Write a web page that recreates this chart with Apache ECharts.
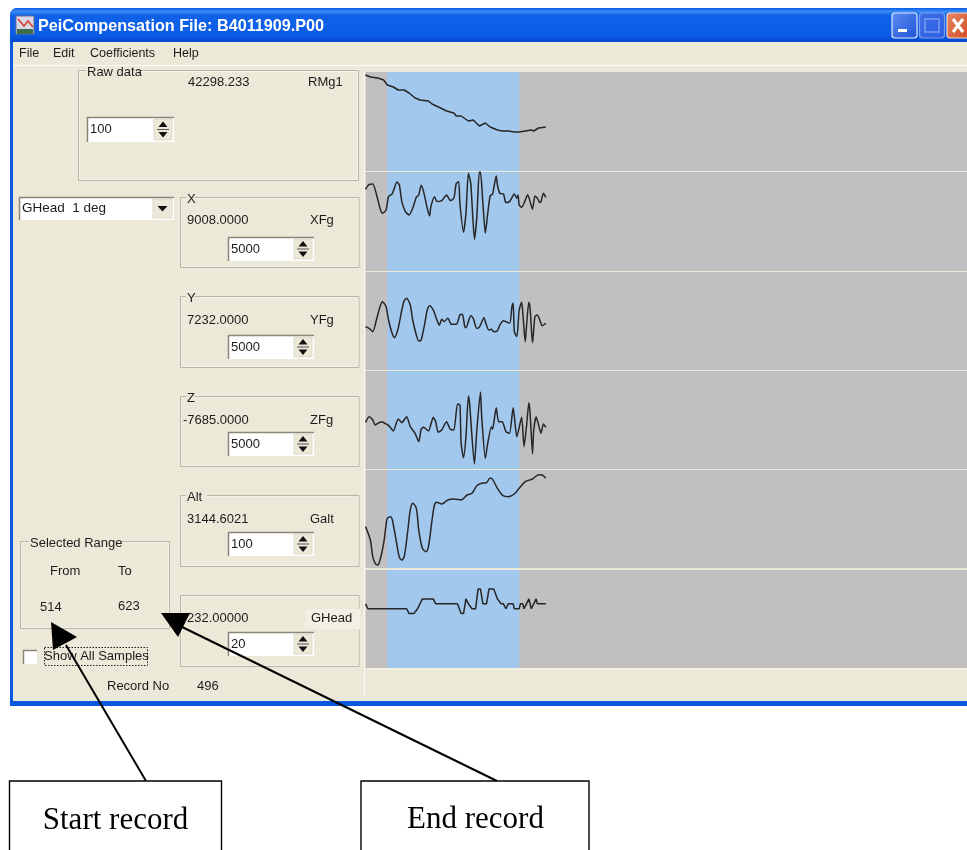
<!DOCTYPE html>
<html><head><meta charset="utf-8">
<script src="https://cdn.jsdelivr.net/npm/echarts@6/dist/echarts.min.js"></script>
<style>html,body{margin:0;padding:0;background:#fff;overflow:hidden}#c{width:967px;height:850px}</style>
</head><body><div id="c"></div>
<script>
// ---------- data: record numbers and readings of each trace ----------
const selectedFrom = 514;
const selectedTo = 623;
const firstRecord = 496;
const lastRecord = 993;

const rmg1Records = [496,500,506,511,514,519,523,528,532,537,541,548,551,558,563,569,571,575,581,585,590,595,599,605,609,614,619,623,628,629,633,635,639,645];
const rmg1Values = [42298,42296,42295,42293,42288,42286,42283,42283,42280,42275,42273,42272,42269,42265,42262,42260,42257,42257,42252,42253,42247,42250,42246,42243,42242,42242,42241,42241,42242,42241,42243,42242,42245,42246];

const xfgRecords = [496,499,502,505,508,510,513,515,518,522,524,526,529,532,535,538,540,542,544,547,549,550,553,555,559,563,566,569,571,573,574,577,579,581,583,586,588,590,591,593,595,597,599,601,604,605,607,610,612,615,619,621,622,623,625,627,630,632,634,636,638,640,641,643,645];
const xfgValues = [9008,9260,9277,8773,8050,7798,7966,8638,8773,9378,9226,8386,7882,7714,8050,8605,8722,9210,8890,8050,7664,8134,8638,8386,8437,8722,8437,8554,9310,9394,8302,6841,7798,9814,9310,6488,7630,9882,9882,8302,6790,7798,8672,8773,9680,9226,8806,8773,8336,8386,8773,8554,8722,8218,8101,8302,8739,8386,7999,8672,8554,8336,8386,8806,8605];

const yfgRecords = [496,499,502,505,508,510,513,515,518,520,523,526,528,530,533,535,538,540,542,545,547,549,552,555,557,559,561,564,567,571,574,576,578,579,583,585,588,590,594,595,598,600,602,605,607,610,615,617,618,619,621,623,625,626,628,629,631,632,634,636,638,640,642,645];
const yfgValues = [7232,7147,6977,7572,8252,8507,8252,7572,6892,6671,7147,8082,8558,8677,8337,7572,6807,6501,6552,7402,8082,8303,8082,7572,7300,7606,7487,7657,7351,7351,7827,7861,7232,7181,7793,7657,7147,7198,7691,7487,7062,7096,6977,7028,7317,7538,7402,8252,8422,6977,6722,8082,8473,7912,6467,7232,8473,8167,6416,7742,7827,7572,7283,7402];

const zfgRecords = [496,499,502,504,509,513,516,519,523,526,530,533,537,540,542,544,548,552,554,556,559,563,566,569,572,574,575,577,579,581,582,586,588,591,592,595,597,600,601,604,606,609,612,615,618,619,621,625,627,629,631,632,634,635,637,639,641,643,645];
const zfgValues = [-7685,-7396,-7566,-7821,-7651,-7770,-7906,-8127,-7515,-7702,-7396,-7906,-8246,-8671,-8042,-7940,-8127,-7430,-7651,-8195,-8076,-7651,-8042,-8076,-6750,-6801,-8756,-9487,-8416,-6342,-6716,-9810,-8076,-6138,-7396,-9521,-8756,-7906,-8042,-6937,-7651,-7651,-8161,-8246,-6937,-7396,-8416,-7430,-8926,-7906,-6682,-7226,-9300,-8076,-7396,-7821,-8246,-7770,-7940];

const galtRecords = [496,500,502,504,506,508,511,513,514,517,519,522,524,526,528,531,533,535,538,540,543,546,548,551,553,555,559,564,569,575,580,584,588,592,596,599,601,605,610,614,619,623,628,634,639,642,645];
const galtValues = [3144.6,3131,3114,3107.2,3105.5,3110.6,3127.6,3146.3,3153.1,3154.8,3146.3,3125.9,3113.3,3110.6,3114,3141.2,3161.6,3168.4,3163.3,3141.2,3122.5,3119.1,3124.2,3151.4,3166.7,3169.4,3167.7,3171.8,3172.8,3171.8,3176.9,3178.6,3186.4,3188.8,3189.5,3194.2,3192.9,3183.7,3175.9,3175.2,3177.9,3183.7,3190.5,3193.2,3197.6,3197.3,3193.9];

const gheadRecords = [496,497,498,530,532,536,539,541,543,552,554,572,575,577,579,581,584,587,589,591,593,596,598,602,605,608,610,612,614,618,619,623,624,626,627,629,631,633,635,637,638,645];
const gheadValues = [232,232,231,231,230,230,231,232,233,233,232,232,230,230,233,232,231,231,235,235,232,232,235,235,233,232,232,231,232,232,231,231,232,232,231,232,233,231,232,233,232,232];

// panel axis ranges (each spans the panel's scale setting)
const rmg1Range = [42202, 42301];
const xfgRange = [4882, 9882];
const yfgRange = [5020, 10020];
const zfgRange = [-10067, -5067];
const galtRange = [3102.4, 3202.4];
const gheadRange = [218.9, 238.9];

// texts
const windowTitle = 'PeiCompensation File: B4011909.P00';
const menuItems = ['File','Edit','Coefficients','Help'];
const readouts = ['42298.233','9008.0000','7232.0000','-7685.0000','3144.6021','232.00000'];
const channelNames = ['RMg1','XFg','YFg','ZFg','Galt','GHead'];
const groupTitles = ['Raw data','X','Y','Z','Alt'];
const scales = ['100','5000','5000','5000','100','20'];

// ---------- layout ----------
const traces = [
  [rmg1Records,rmg1Values,rmg1Range,72,99,0],
  [xfgRecords,xfgValues,xfgRange,172,99,0.2],
  [yfgRecords,yfgValues,yfgRange,272,98,0.25],
  [zfgRecords,zfgValues,zfgRange,371,98,0.2],
  [galtRecords,galtValues,galtRange,470,98,0.3],
  [gheadRecords,gheadValues,gheadRange,570,98,0]
];
const FACE='#ece9d8', EDGE='#aca899', UI='"Liberation Sans",Arial,sans-serif';
const g=[];
const rect=(x,y,w,h,fill,stroke,lw,extra)=>g.push({type:'rect',shape:Object.assign({x,y,width:w,height:h},extra||{}),style:{fill:fill||'transparent',stroke:stroke||null,lineWidth:lw||1},silent:true});
const text=(s,x,y,o)=>{o=o||{};g.push({type:'text',silent:true,style:{text:s,x,y,fill:o.fill||'#1c1c1c',font:(o.bold?'bold ':'')+(o.size||13)+'px '+(o.family||UI),align:o.align||'left',verticalAlign:'middle'}});};
const line=(x1,y1,x2,y2,c,lw,dash)=>g.push({type:'line',silent:true,shape:{x1,y1,x2,y2},style:{stroke:c,lineWidth:lw||1,lineDash:dash||null}});
const poly=(pts,c)=>g.push({type:'polygon',silent:true,shape:{points:pts},style:{fill:c}});

// window frame
g.push({type:'rect',silent:true,shape:{x:10,y:8,width:970,height:698,r:[7,7,0,0]},style:{fill:'#0a58e0'}});
g.push({type:'rect',silent:true,shape:{x:10,y:8,width:970,height:34,r:[7,7,0,0]},style:{fill:{type:'linear',x:0,y:0,x2:0,y2:1,colorStops:[{offset:0,color:'#0a5ae6'},{offset:.1,color:'#3a8cf6'},{offset:.22,color:'#0f62e8'},{offset:.8,color:'#0a5ce6'},{offset:1,color:'#0548cc'}]}}});
rect(13,42,960,659,FACE);
line(13,65.5,967,65.5,'#fbfaf3',1);
// title icon
rect(16,16,18,18,'#d9d6e6','#6f6f8f',1);
rect(17,29,16,5,'#3d6f4c');
g.push({type:'polyline',silent:true,shape:{points:[[18,19],[24,26],[28,21],[33,27]]},style:{stroke:'#d2402a',fill:null,lineWidth:1.5}});
text(windowTitle,38,27,{fill:'#fff',bold:true,size:16.2});
// caption buttons
const capBtn=(x,w,top,bot,b)=>g.push({type:'rect',silent:true,shape:{x,y:13,width:w,height:25,r:3},style:{fill:{type:'linear',x:0,y:0,x2:1,y2:1,colorStops:[{offset:0,color:top},{offset:1,color:bot}]},stroke:b,lineWidth:1.2}});
capBtn(892,25,'#5f8ff0','#1c50d8','#dfe8fb');
rect(898,29,9,3,'#fff');
capBtn(919.5,25,'#3f6fe8','#2c5ee0','#7c9cee');
rect(925,19,14,13,'transparent','#7c9cee',1.5);
capBtn(947,30,'#e88a68','#cf3d14','#f4d9cc');
line(953,19,963,32,'#fff',3);line(963,19,953,32,'#fff',3);
// menu
[19,53,90,173].forEach((x,i)=>text(menuItems[i],x,53.5,{size:12.5}));

// helpers for controls
const group=(x,y,w,h,title,tx)=>{
  rect(x+.5,y+.5,w,h,null,'#b9b6a6',1);
  rect(x+1.5,y+1.5,w-2,h-2,null,'#f8f7ef',.6);
  if(title){const tw=title.length*6.4+2;rect(tx-1,y-3,tw,7,FACE);text(title,tx,y+2.5,{size:13});}
};
const spin=(x,y,w,h,val)=>{
  rect(x,y,w,h,'#fff');
  line(x,y+.5,x+w,y+.5,'#8a8778',1.5);line(x+.5,y,x+.5,y+h,'#8a8778',1.5);
  const bx=x+w-20, my=y+h/2;
  rect(bx,y+2,18,h-4,FACE,'#d6d3c4',.8);
  poly([[bx+9,my-8],[bx+4.5,my-2.5],[bx+13.5,my-2.5]],'#111');
  poly([[bx+9,my+8],[bx+4.5,my+2.5],[bx+13.5,my+2.5]],'#111');
  line(bx+3,my,bx+15,my,'#555',1);
  text(val,x+3,my,{size:13});
};

// control groups (top, label y, spin y)
group(78,70,280,110,groupTitles[0],87);
text(readouts[0],188,82);text(channelNames[0],308,82);
spin(87,117,87,25,scales[0]);

const rows=[[197,220,237],[296,320,335],[396,420,432],[495,519,532],[595,618,632]];
const valX=[187,187,183,187,187];
const nameX=[310,310,310,310,311];
rows.forEach((r,i)=>{
  group(180,r[0],178.5,r[0]===197||r[0]===396?70:71,groupTitles[i+1],187);
  text(readouts[i+1],valX[i],r[1]);
});
rect(305,609,55,20,'#f2f0e4');
rows.forEach((r,i)=>{
  text(channelNames[i+1],nameX[i],r[1]);
  spin(228,r[2],86,24,scales[i+1]);
});

// combo box
rect(19,197,155,23,'#fff');
line(19,197.5,174,197.5,'#8a8778',1.5);line(19.5,197,19.5,220,'#8a8778',1.5);
rect(153,199,19,19,FACE,'#d6d3c4',.8);
poly([[157.5,206],[167.5,206],[162.5,211.5]],'#111');
text('GHead  1 deg',22,208.5,{size:13.5});

// selected range
group(20,541,149,87,'Selected Range',30);
text('From',50,571);text('To',118,571);
text(String(selectedFrom),40,607);text(String(selectedTo),118,606);
// checkbox
rect(23,650,14,14,'#fff');
line(23,650.5,37,650.5,'#8a8778',1.5);line(23.5,650,23.5,664,'#8a8778',1.5);
rect(44.5,647.5,103,18,null,'#222',1,{});
g[g.length-1].style.lineDash=[1.5,1.5];
text('Show All Samples',44,656.5,{size:13});
text('Record No',107,686.5);text(String(firstRecord),197,686.5);

// plot edge highlights
line(364.5,72,364.5,695,'#fbfaf3',1);
line(365,669,967,669,'#f8f7ef',1);

// a stray pixel mark at the foot of the X panel
rect(479,269,2,1.5,'#444');

// annotation arrows and boxes
line(146,781,66,645,'#000',2);
poly([[51,622],[77,637],[53,650]],'#000');
line(497,781,178,625,'#000',2);
poly([[161,613],[190,613],[178,637]],'#000');
rect(9.5,781,212,90,'#fff','#000',1.4);
rect(361,781,228,90,'#fff','#000',1.4);
const SERIF='"Liberation Serif","Times New Roman",serif';
text('Start record',115.5,821,{size:31,family:SERIF,align:'center',fill:'#000'});
text('End record',475.5,820,{size:31,family:SERIF,align:'center',fill:'#000'});

// ---------- chart ----------
const grid=[],xAxis=[],yAxis=[],series=[];
traces.forEach((t,i)=>{
  grid.push({z:1,left:365.5,width:601.5,top:t[3],height:t[4],show:true,backgroundColor:'#c0c0c0',borderWidth:0,containLabel:false});
  xAxis.push({type:'value',gridIndex:i,min:firstRecord,max:lastRecord,show:false});
  yAxis.push({type:'value',gridIndex:i,min:t[2][0],max:t[2][1],show:false});
  series.push({type:'line',xAxisIndex:i,yAxisIndex:i,showSymbol:false,animation:false,silent:true,smooth:t[5],
    data:t[0].map((r,k)=>[r,t[1][k]]),
    lineStyle:{color:'#262626',width:1.5},
    markArea:{silent:true,animation:false,itemStyle:{color:'#a3c8ee',opacity:1},
      data:[[{xAxis:selectedFrom},{xAxis:selectedTo}]]}});
});
const chart=echarts.init(document.getElementById('c'),null,{renderer:'canvas'});
chart.setOption({backgroundColor:'#ffffff',animation:false,graphic:{z:0,elements:g},grid,xAxis,yAxis,series,tooltip:{show:false},legend:{show:false}});
</script>
</body></html>
